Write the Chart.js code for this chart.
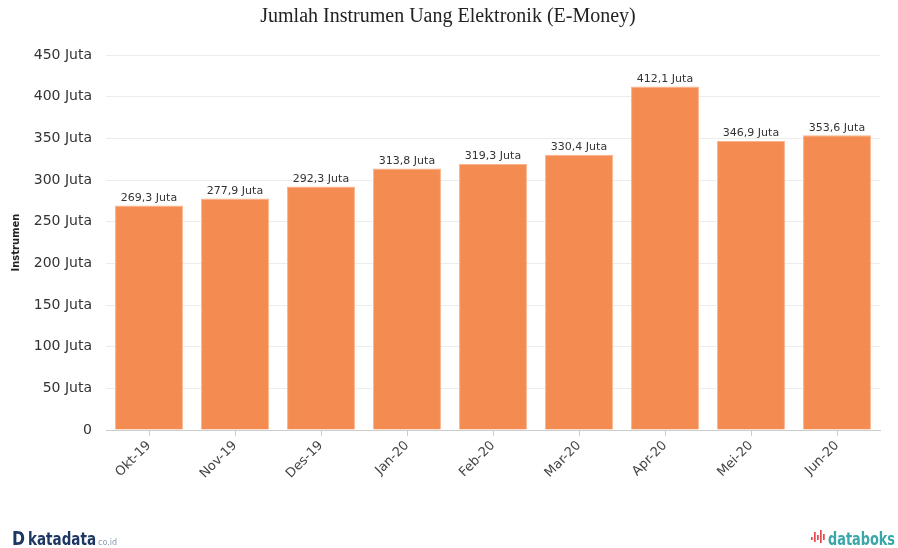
<!DOCTYPE html>
<html>
<head>
<meta charset="utf-8">
<script src="https://cdn.jsdelivr.net/npm/chart.js@4.4.1/dist/chart.umd.min.js"></script>
<style>
  html, body { margin: 0; padding: 0; background: #fff; }
  #wrap { width: 898px; height: 548px; position: relative; }
</style>
</head>
<body>
<div id="wrap"><canvas id="emoney-chart"></canvas></div>
<script>
const months = ['Okt-19', 'Nov-19', 'Des-19', 'Jan-20', 'Feb-20', 'Mar-20', 'Apr-20', 'Mei-20', 'Jun-20'];
const instruments = [269.3, 277.9, 292.3, 313.8, 319.3, 330.4, 412.1, 346.9, 353.6];
const yTicks = [0, 50, 100, 150, 200, 250, 300, 350, 400, 450];

const chartTitle = 'Jumlah Instrumen Uang Elektronik (E-Money)';
const fmt = v => v.toFixed(1).replace('.', ',') + ' Juta';

// text squeezed horizontally to a given width
function fitText(ctx, text, x, y, width) {
  const w = ctx.measureText(text).width;
  ctx.save();
  ctx.translate(x, y);
  ctx.scale(Math.min(1, width / w), 1);
  ctx.fillText(text, 0, 0);
  ctx.restore();
}

// labels on top of the bars, title and the two logos
const extras = {
  id: 'extras',
  afterDatasetsDraw(chart) {
    const ctx = chart.ctx;
    const meta = chart.getDatasetMeta(0);
    ctx.save();
    ctx.font = '11px "DejaVu Sans", Verdana, sans-serif';
    ctx.fillStyle = '#333';
    ctx.textAlign = 'center';
    ctx.textBaseline = 'bottom';
    meta.data.forEach((bar, i) => {
      ctx.fillText(fmt(instruments[i]), bar.x, bar.y - 2);
    });
    ctx.restore();
  },
  afterDraw(chart) {
    const ctx = chart.ctx;
    ctx.save();
    ctx.fillStyle = '#222';
    ctx.font = '20px "Liberation Serif", "Times New Roman", serif';
    ctx.textAlign = 'center';
    ctx.textBaseline = 'middle';
    ctx.fillText(chartTitle, 448, 17);

    // katadata logo
    ctx.textAlign = 'left';
    ctx.textBaseline = 'alphabetic';
    ctx.fillStyle = '#1d3765';
    ctx.font = 'bold 19px "DejaVu Sans", sans-serif';
    fitText(ctx, 'D', 12, 545, 13);
    ctx.font = 'bold 17px "DejaVu Sans", sans-serif';
    fitText(ctx, 'katadata', 28, 545, 68);
    ctx.fillStyle = '#8a9bb0';
    ctx.font = '8px "DejaVu Sans", sans-serif';
    ctx.fillText('co.id', 98, 545);

    // databoks logo
    ctx.fillStyle = '#e5484d';
    [[811, 537, 3], [814, 532, 10], [817, 535, 5], [820, 530, 13], [823, 534, 6]].forEach(([x, y, h]) => {
      ctx.fillRect(x, y, 1.7, h);
    });
    ctx.fillStyle = '#3aa6a8';
    ctx.font = 'bold 17px "DejaVu Sans", sans-serif';
    fitText(ctx, 'databoks', 828, 545, 67);
    ctx.restore();
  }
};

new Chart(document.getElementById('emoney-chart').getContext('2d'), {
  type: 'bar',
  data: {
    labels: months,
    datasets: [{
      label: 'Instrumen',
      data: instruments,
      backgroundColor: 'rgba(243, 134, 72, 0.95)',
      borderColor: 'rgba(250, 180, 140, 1)',
      borderWidth: 1,
      categoryPercentage: 1,
      barPercentage: 0.79
    }]
  },
  options: {
    responsive: true,
    maintainAspectRatio: false,
    animation: false,
    layout: {
      padding: { top: 55, right: 18, bottom: 58, left: 0 }
    },
    plugins: {
      legend: { display: false },
      tooltip: { enabled: false },
      title: { display: false }
    },
    scales: {
      x: {
        grid: { display: true, drawOnChartArea: false, offset: false, tickLength: 6, color: '#ccc' },
        border: { display: true, color: '#ccc' },
        ticks: {
          color: '#444',
          font: { family: '"DejaVu Sans", Verdana, sans-serif', size: 13 },
          maxRotation: 45,
          minRotation: 45,
          padding: 2
        },
        afterFit(scale) { scale.height = 60; }
      },
      y: {
        min: 0,
        max: 450,
        afterBuildTicks(scale) { scale.ticks = yTicks.map(v => ({ value: v })); },
        grid: { color: '#ececec', drawTicks: false },
        border: { display: false },
        ticks: {
          color: '#333',
          padding: 14,
          font: { family: '"DejaVu Sans", Verdana, sans-serif', size: 14 },
          callback: v => v === 0 ? '0' : v + ' Juta'
        },
        title: {
          display: true,
          text: 'Instrumen',
          color: '#222',
          font: { family: '"DejaVu Sans", Verdana, sans-serif', size: 10, weight: 'bold' },
          padding: { top: 10, bottom: 0 }
        },
        afterFit(scale) { scale.width = 106; }
      }
    }
  },
  plugins: [extras]
});
</script>
</body>
</html>
